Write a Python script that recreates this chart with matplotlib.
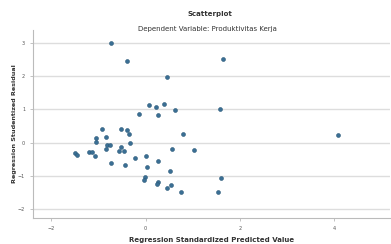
import matplotlib
matplotlib.use("Agg")
import matplotlib.pyplot as plt

# standardized predicted value (x) and studentized residual (y)
pred = [-0.73, -0.40, 0.45, 0.08, 0.23, 0.39, 0.27, 0.63, -0.13,
        -0.93, -0.51, -0.40, -0.35, 0.79, -1.04, -0.83, -1.05, -0.32,
        -0.81, -0.76, -1.49, -1.46, -1.20, -1.14, -1.08, -0.83, -0.53,
        -0.57, -0.46, -0.23, 0.00, 0.56, 1.03, -0.73, -0.43, 0.04,
        0.27, 0.51, -0.01, -0.04, 0.27, 0.24, 0.53, 0.46, 0.76,
        1.65, 1.58, 4.09, 1.61, 1.54]
resid = [3.00, 2.47, 1.97, 1.14, 1.06, 1.17, 0.83, 0.99, 0.85,
         0.40, 0.40, 0.38, 0.25, 0.25, 0.14, 0.17, 0.02, -0.01,
         -0.06, -0.08, -0.32, -0.39, -0.29, -0.28, -0.42, -0.20, -0.12,
         -0.24, -0.24, -0.46, -0.40, -0.18, -0.22, -0.62, -0.67, -0.73,
         -0.55, -0.87, -1.03, -1.13, -1.20, -1.25, -1.29, -1.36, -1.50,
         2.53, 1.00, 0.24, -1.06, -1.50]

xticks = [-2, 0, 2, 4]
yticks = [-2, -1, 0, 1, 2, 3]

fig = plt.figure(figsize=(3.91, 2.44), dpi=100)
ax = fig.add_axes([0.084, 0.107, 0.914, 0.77])

ax.scatter(pred, resid, s=8, color="#3a6f94", edgecolors="#2a5878", linewidths=0.4, zorder=3)

ax.set_xlim(-2.39, 5.19)
ax.set_ylim(-2.27, 3.39)
ax.set_xticks(xticks)
ax.set_yticks(yticks)
ax.tick_params(labelsize=3.5, colors="#aaaaaa", labelcolor="#555555", length=2, width=0.5)
ax.grid(axis="y", color="#dddddd", linewidth=1.0)
ax.set_axisbelow(True)
for s in ["top", "right"]:
    ax.spines[s].set_visible(False)
for s in ["left", "bottom"]:
    ax.spines[s].set_color("#bbbbbb")
    ax.spines[s].set_linewidth(0.8)

ax.set_xlabel("Regression Standardized Predicted Value", fontsize=5, fontweight="bold", color="#333333", labelpad=5)
ax.set_ylabel("Regression Studentized Residual", fontsize=4.6, fontweight="bold", color="#333333", labelpad=1)

fig.text(0.537, 0.943, "Scatterplot", ha="center", va="center", fontsize=5, fontweight="bold", color="#333333")
fig.text(0.53, 0.881, "Dependent Variable: Produktivitas Kerja", ha="center", va="center", fontsize=5, color="#333333")

fig.savefig("out.png", dpi=100)
